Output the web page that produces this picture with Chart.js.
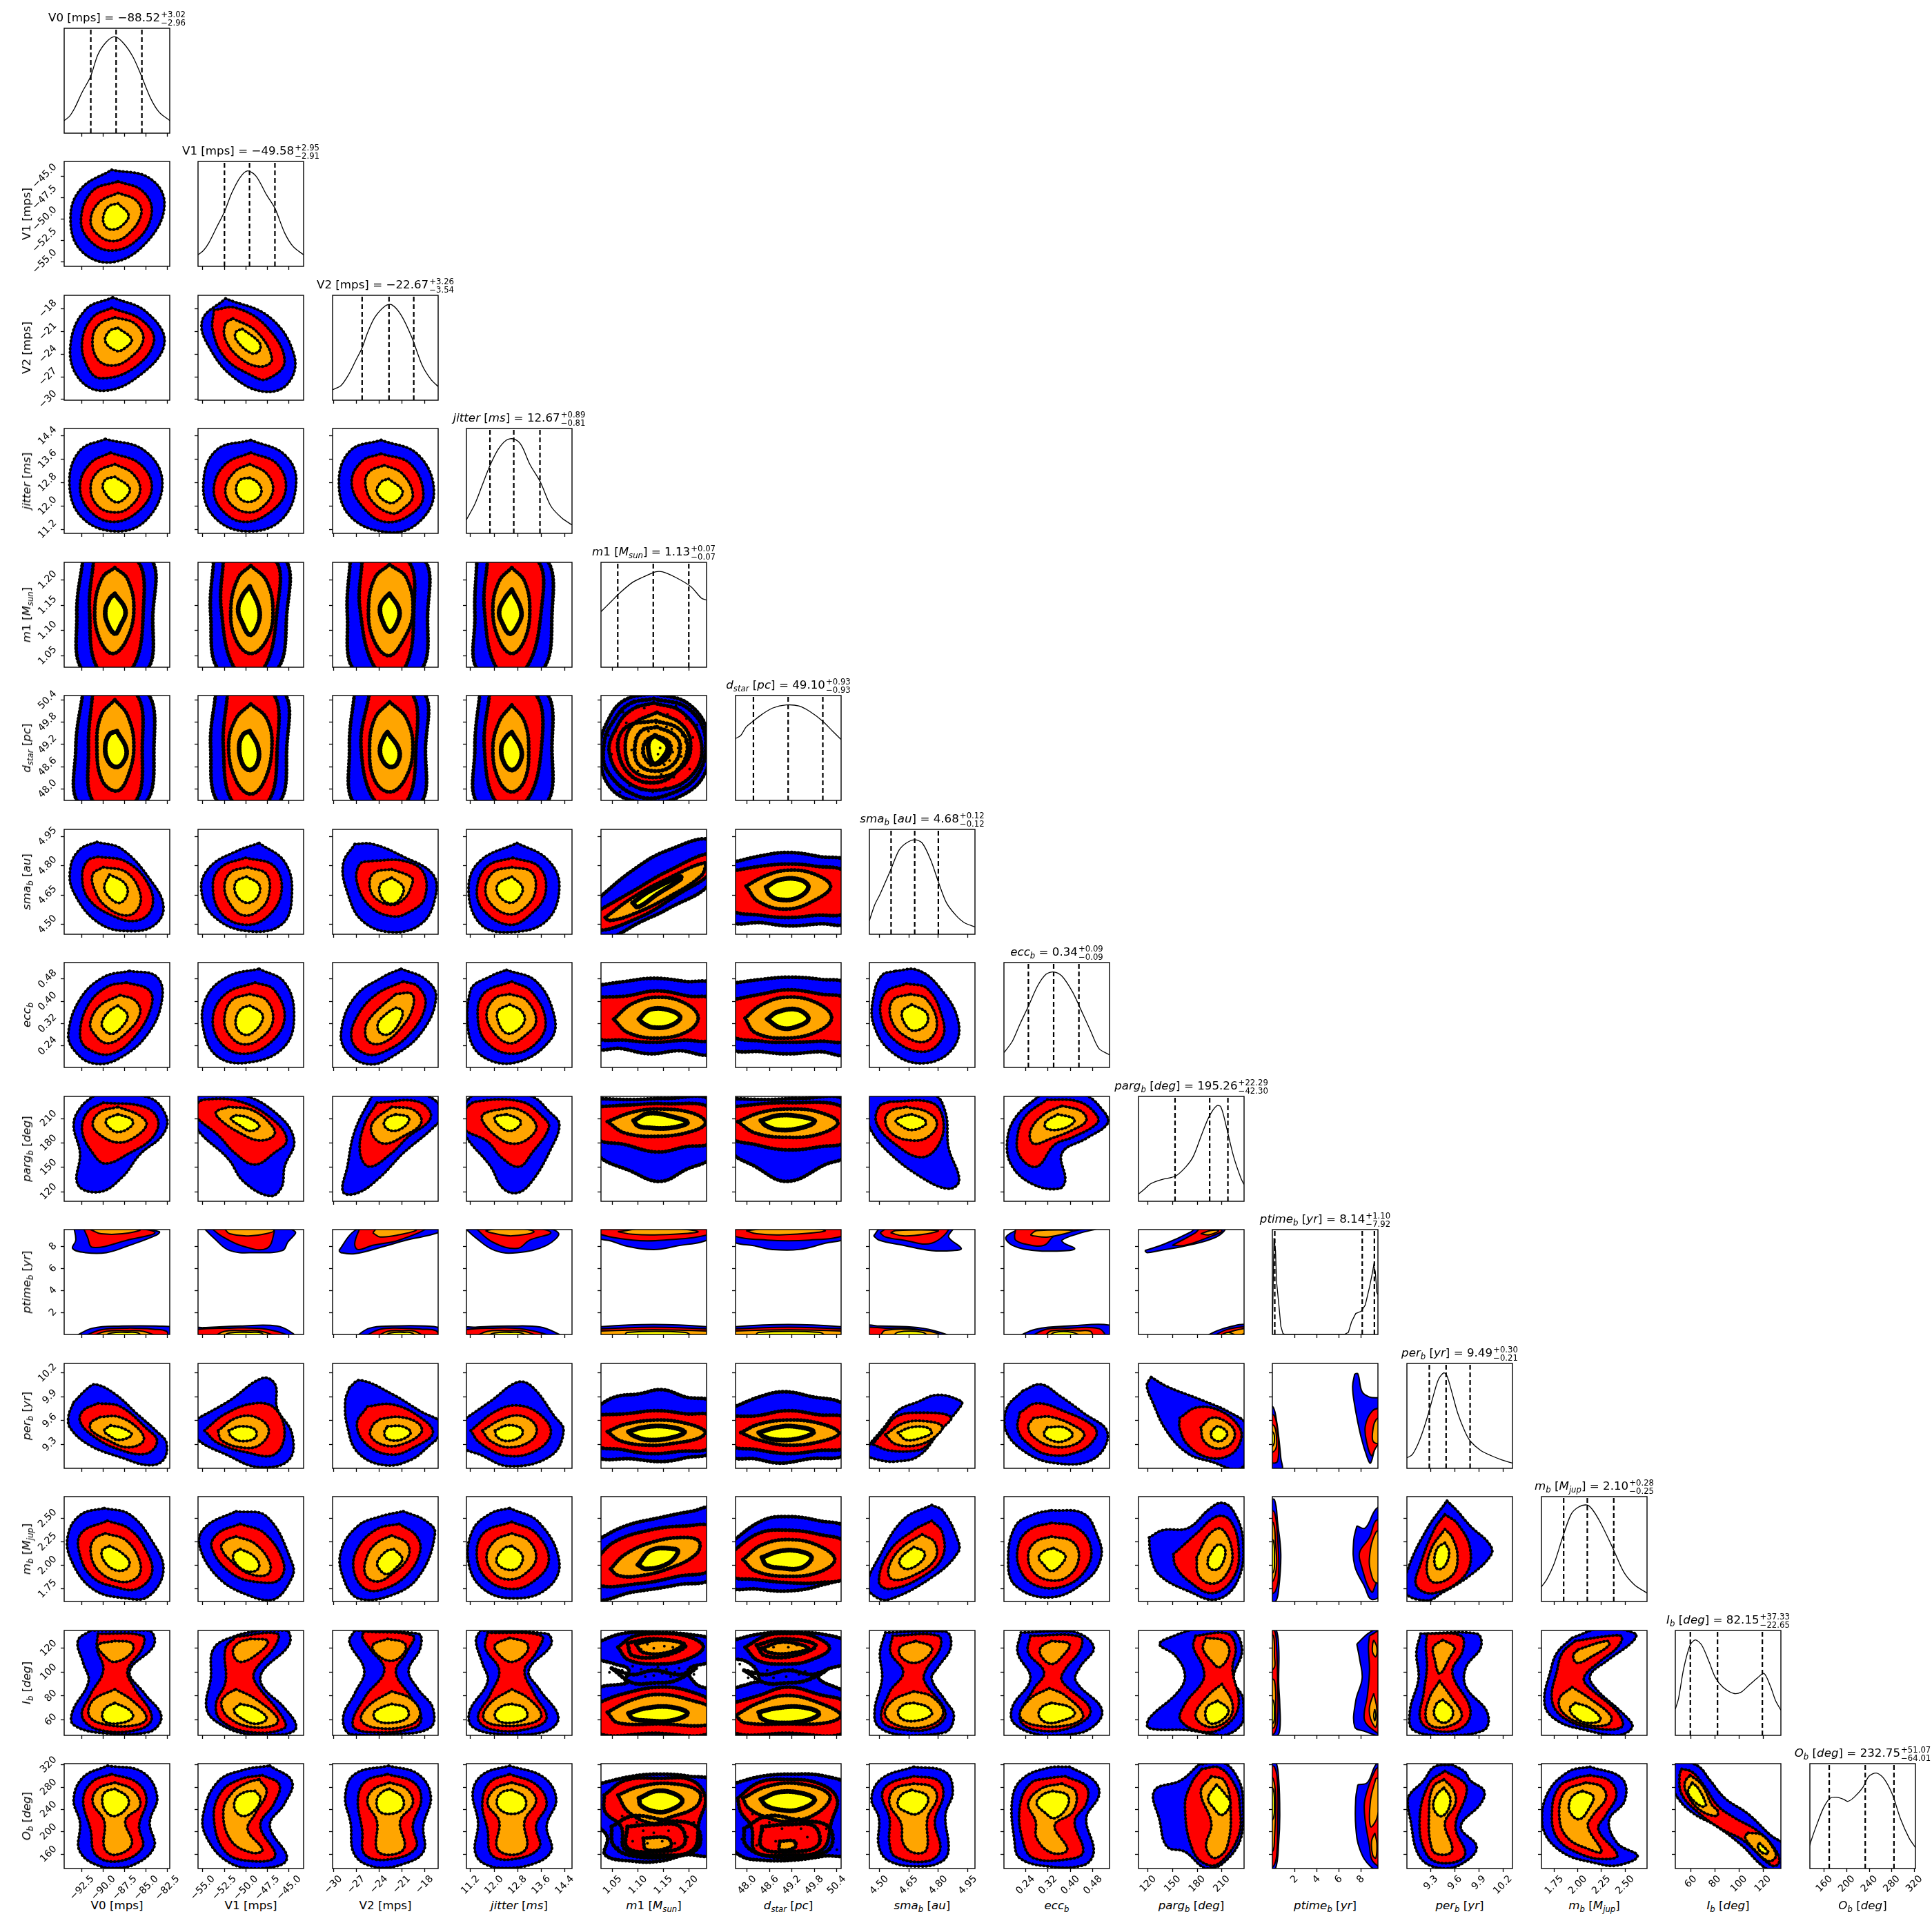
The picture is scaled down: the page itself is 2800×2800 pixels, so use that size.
<!DOCTYPE html>
<html>
<head>
<meta charset="utf-8">
<title>corner plot</title>
<script src="https://cdn.jsdelivr.net/npm/chart.js@4"></script>
<style>
  body { margin: 0; background: #fff; width: 2800px; height: 2800px; position: relative; overflow: hidden;
         font-family: "DejaVu Sans", sans-serif; color: #000; }
  canvas { position: absolute; }
  .txt { position: absolute; white-space: nowrap; font-size: 16.7px; line-height: 24px; }
  .txt sub { font-size: 70%; line-height: 0; }
  .stack { display: inline-block; vertical-align: middle; font-size: 11.7px; line-height: 11.5px; text-align: left; margin-left: 1px; position: relative; top: 1px; }
  .stack span { display: block; }
</style>
</head>
<body>
<script>
// parameter names (html because of the italics and subscripts)
const names = ['V0 [mps]', 'V1 [mps]', 'V2 [mps]', '<i>jitter</i> [<i>ms</i>]', '<i>m</i>1 [<i>M<sub>sun</sub></i>]',
  '<i>d<sub>star</sub></i> [<i>pc</i>]', '<i>sma<sub>b</sub></i> [<i>au</i>]', '<i>ecc<sub>b</sub></i>', '<i>parg<sub>b</sub></i> [<i>deg</i>]',
  '<i>ptime<sub>b</sub></i> [<i>yr</i>]', '<i>per<sub>b</sub></i> [<i>yr</i>]', '<i>m<sub>b</sub></i> [<i>M<sub>jup</sub></i>]',
  '<i>I<sub>b</sub></i> [<i>deg</i>]', '<i>O<sub>b</sub></i> [<i>deg</i>]'];
const medians = ['−88.52', '−49.58', '−22.67', '12.67', '1.13', '49.10', '4.68', '0.34', '195.26', '8.14', '9.49', '2.10', '82.15', '232.75'];
const plusErr = ['3.02', '2.95', '3.26', '0.89', '0.07', '0.93', '0.12', '0.09', '22.29', '1.10', '0.30', '0.28', '37.33', '51.07'];
const minusErr = ['2.96', '2.91', '3.54', '0.81', '0.07', '0.93', '0.12', '0.09', '42.30', '7.92', '0.21', '0.25', '22.65', '64.01'];
// axis limits
const lo = [-94.6, -55.56, -30.1, 11.06, 1.027, 47.69, 4.45, 0.163, 108.3, 0, 9.0, 1.615, 47, 134.3];
const hi = [-82.24, -43.3, -16.2, 14.65, 1.235, 50.52, 4.986, 0.539, 237.3, 9.56, 10.32, 2.732, 134.9, 322];
const tickLabels = [
  ['−92.5', '−90.0', '−87.5', '−85.0', '−82.5'], ['−55.0', '−52.5', '−50.0', '−47.5', '−45.0'], ['−30', '−27', '−24', '−21', '−18'],
  ['11.2', '12.0', '12.8', '13.6', '14.4'], ['1.05', '1.10', '1.15', '1.20'], ['48.0', '48.6', '49.2', '49.8', '50.4'],
  ['4.50', '4.65', '4.80', '4.95'], ['0.24', '0.32', '0.40', '0.48'], ['120', '150', '180', '210'], ['2', '4', '6', '8'],
  ['9.3', '9.6', '9.9', '10.2'], ['1.75', '2.00', '2.25', '2.50'], ['60', '80', '100', '120'], ['160', '200', '240', '280', '320']];

// 1d histograms: pairs of (percent across the panel, percent of panel height)
const histograms = [
  [0,12,5,16,10,24,17,39,25,54,32,75,40,87,48,92,56,86,65,73,73,55,82,33,90,20,100,12],
  [0,11,5,15,10,22,18,38,25,52,32,70,40,85,47,91,55,86,65,68,73,55,82,32,90,19,100,11],
  [0,10,8,14,15,24,22,38,28,50,33,64,40,79,50,90,56,91,65,81,75,60,85,33,93,20,100,13],
  [0,13,8,28,15,46,22,64,30,80,38,89,45,90,52,84,60,66,70,49,80,26,90,15,100,8],
  [0,53,10,63,18,71,30,81,40,86,52,91,58,91,70,86,85,77,95,66,100,64],
  [0,59,5,62,10,70,16,75,25,82,35,88,48,91,60,90,70,85,82,76,92,66,100,58],
  [0,13,5,28,10,38,20,61,28,80,35,87,43,90,50,87,58,71,66,48,73,30,82,18,90,11,100,7],
  [0,14,8,25,15,41,23,58,32,78,40,89,47,91,55,87,65,72,72,57,82,35,90,18,100,12],
  [0,7,5,11,12,17,23,21,35,24,45,33,52,43,60,64,67,81,74,91,78,90,83,72,90,43,97,22,100,16],
  [0,0,0.5,0,1.5,92,3,80,4,50,6,30,8,8,10,1,12,0,50,0,68,0,72,2,75,12,79,20,84,22,88,28,92,45,95,60,96,66,97.5,60,99,40,100,38],
  [0,10,5,13,10,22,15,35,20,51,25,69,30,85,35,91,38,88,43,71,48,53,55,35,60,26,70,17,80,12,90,8,100,5],
  [0,14,5,21,12,36,20,61,28,83,35,90,43,92,48,88,56,75,68,50,78,28,88,16,100,8],
  [0,25,3,35,8,64,14,86,19,91,25,86,32,70,38,55,45,46,55,40,62,41,70,48,78,55,84,59,90,47,95,33,100,24],
  [0,22,1,26,7,43,13,58,19,67,25,68,32,66,36,64,42,68,50,77,56,88,63,91,70,86,78,71,86,47,94,29,100,20]];

// 2d contour outlines: [row, col, level, [u,v, u,v, ...]], u and v are percent of the panel's axis range
// level k is a band of black samples with no fill of its own
const outlines = [
[1,0,'b',[45,92,81,84,95,59,79,24,46,4,16,15,6,46,16,74]],
[1,0,'r',[51,81,74,72,83,52,70,26,44,15,23,26,16,46,27,72]],
[1,0,'o',[51,70,68,63,73,50,61,31,46,24,31,31,25,44,33,61]],
[1,0,'y',[51,60,61,49,55,39,46,35,39,38,37,47,42,57]],
[2,0,'b',[46,98,78,84,95,55,72,24,37,9,13,22,6,53,20,86]],
[2,0,'r',[45,88,74,76,85,56,65,30,34,21,22,32,17,56,27,79]],
[2,0,'o',[48,79,67,73,75,58,62,40,45,33,31,40,27,60,34,73]],
[2,0,'y',[51,69,64,58,58,50,50,47,39,56,43,66]],
[2,1,'b',[26,97,68,79,91,43,86,17,65,8,36,20,12,48,4,76]],
[2,1,'r',[15,86,36,88,65,70,82,37,65,20,50,24,26,40,14,66]],
[2,1,'o',[33,78,56,65,70,39,59,32,40,40,26,58,26,73]],
[2,1,'y',[42,68,58,55,58,47,50,45,36,58,36,65]],
[3,0,'b',[39,90,76,79,93,49,78,13,48,2,16,16,5,49,15,79]],
[3,0,'r',[44,77,72,66,83,43,69,20,45,11,23,23,15,46,25,67]],
[3,0,'o',[48,66,65,57,72,41,62,25,48,20,32,26,25,43,32,59]],
[3,0,'y',[48,54,62,43,57,33,48,30,37,42,39,51]],
[3,1,'b',[50,89,82,75,93,49,79,13,45,2,15,16,5,46,17,79]],
[3,1,'r',[50,77,75,66,83,41,68,20,43,11,22,23,15,44,26,66]],
[3,1,'o',[49,66,65,57,71,41,61,25,47,20,31,28,26,43,35,59]],
[3,1,'y',[49,53,56,49,60,42,58,35,49,30,40,33,36,42,40,51]],
[3,2,'b',[46,89,81,75,96,39,81,10,53,1,17,16,6,49,17,79]],
[3,2,'r',[46,76,74,66,86,36,74,18,49,11,28,26,18,49,28,69]],
[3,2,'o',[49,65,66,57,76,36,66,23,56,19,38,30,31,48,35,59]],
[3,2,'y',[53,52,66,41,63,33,54,29,42,39,46,49]],
[4,0,'b',[18,105,80,105,84,50,76,-5,20,-5,12,50]],
[4,0,'r',[28,103,68,103,75,55,63,-3,33,-3,24,55]],
[4,0,'o',[48,95,60,84,66,55,59,26,46,13,34,26,29,55,36,85]],
[4,0,'y',[48,70,58,54,53,39,48,32,41,42,39,54,43,65]],
[4,1,'b',[15,105,80,105,84,50,72,-5,22,-5,12,50]],
[4,1,'r',[24,103,72,103,75,55,61,-3,36,-3,22,55]],
[4,1,'o',[50,97,65,82,71,52,65,26,50,13,36,26,31,55,38,85]],
[4,1,'y',[49,77,58,55,56,39,49,31,42,42,38,55,42,68]],
[4,2,'b',[17,105,84,105,90,50,81,-5,23,-5,14,50]],
[4,2,'r',[28,103,70,103,77,55,67,-3,42,-3,26,55]],
[4,2,'o',[54,98,70,85,76,52,67,26,53,11,39,26,34,55,40,85]],
[4,2,'y',[54,70,63,55,61,42,54,34,47,45,45,57,49,65]],
[4,3,'b',[10,105,73,105,81,50,69,-5,13,-5,8,50]],
[4,3,'r',[20,103,66,103,71,55,55,-3,30,-3,17,55]],
[4,3,'o',[43,95,55,82,60,55,55,26,43,13,31,26,25,55,31,82]],
[4,3,'y',[43,74,52,53,48,39,41,32,34,42,31,53,36,65]],
[5,0,'b',[18,105,76,105,85,50,74,-5,16,-5,11,50]],
[5,0,'r',[27,103,67,103,74,50,66,-3,29,-3,23,50]],
[5,0,'o',[48,96,60,81,66,52,60,22,50,9,36,19,31,52,35,81]],
[5,0,'y',[50,66,59,48,55,35,48,32,41,39,39,52,43,63]],
[5,1,'b',[17,105,79,105,84,50,74,-5,22,-5,12,50]],
[5,1,'r',[28,103,70,103,75,50,65,-3,34,-3,24,50]],
[5,1,'o',[50,92,65,78,70,52,63,19,50,6,36,19,29,52,36,78]],
[5,1,'y',[49,66,57,50,56,35,49,29,42,35,39,52,43,63]],
[5,2,'b',[21,105,84,105,88,50,81,-5,23,-5,16,50]],
[5,2,'r',[35,103,74,103,79,50,69,-3,42,-3,27,50]],
[5,2,'o',[54,94,70,78,76,48,68,19,54,8,40,19,35,48,40,78]],
[5,2,'y',[52,65,63,48,61,35,54,32,47,39,45,50,49,61]],
[5,3,'b',[13,105,73,105,81,50,73,-5,13,-5,8,50]],
[5,3,'r',[22,103,64,103,71,50,55,-3,29,-3,17,50]],
[5,3,'o',[43,91,55,75,59,48,55,19,43,8,31,19,25,48,31,75]],
[5,3,'y',[43,65,52,48,50,35,43,29,36,35,33,50,38,61]],
[5,4,'b',[50,102,83,92,102,62,98,25,73,3,40,-2,9,12,-1,49,8,79,23,96]],
[5,4,'r',[50,93,77,84,95,55,87,25,57,10,26,17,8,45,16,72,30,87]],
[5,4,'o',[53,84,77,72,85,52,77,32,53,22,30,29,23,52,30,72]],
[5,4,'y',[51,62,63,52,58,40,50,35,45,48,46,57]],
[5,4,'k',[50,97,82,88,99,60,92,25,65,6,35,4,6,28,3,55,12,76,27,92]],
[5,4,'k',[52,76,74,68,82,50,72,28,52,17,28,24,16,50,24,70]],
[5,4,'k',[53,70,70,62,75,50,68,34,52,28,36,34,32,50,38,66]],
[5,4,'k',[52,62,64,56,66,48,60,38,50,34,42,40,40,50,44,58]],
[6,0,'b',[31,88,55,81,83,50,94,27,87,10,66,3,34,10,9,40,6,64,15,81]],
[6,0,'r',[32,74,59,69,80,47,83,25,69,13,45,18,23,34,17,55,22,70]],
[6,0,'o',[37,64,59,59,72,39,69,23,57,18,39,27,29,42,27,57]],
[6,0,'y',[43,57,57,49,60,39,53,30,43,35,38,45]],
[6,1,'b',[58,87,82,69,89,40,80,10,47,3,15,17,3,44,12,65,36,79]],
[6,1,'r',[45,73,72,65,79,40,66,17,45,9,22,20,14,47,22,64]],
[6,1,'o',[47,64,65,57,67,37,58,23,43,18,31,28,25,45,31,59]],
[6,1,'y',[46,55,58,47,56,35,46,30,36,38,36,50]],
[6,2,'b',[21,86,38,86,67,74,95,57,97,34,84,10,56,2,28,13,14,40,10,67]],
[6,2,'r',[38,70,67,70,86,59,87,34,74,22,57,17,35,27,23,50,26,67]],
[6,2,'o',[56,62,75,54,75,47,68,34,56,28,40,35,35,49,40,59]],
[6,2,'y',[56,54,67,45,64,34,56,29,47,34,45,47]],
[6,3,'b',[48,87,76,72,88,47,76,13,41,2,13,10,2,44,13,70]],
[6,3,'r',[44,73,69,64,75,40,62,20,41,9,16,23,10,44,20,65]],
[6,3,'o',[43,64,62,59,65,40,55,25,41,19,25,27,18,42,25,59]],
[6,3,'y',[43,55,53,45,50,35,41,30,30,38,30,48]],
[6,4,'b',[-5,32,30,61,63,80,105,89,105,51,63,24,36,11,10,-3,-5,-6]],
[6,4,'r',[-5,21,30,41,63,60,105,77,105,60,73,38,36,16,-5,4]],
[6,4,'o',[4,16,30,35,63,53,99,68,95,56,63,35,30,19,8,13]],
[6,4,'y',[30,30,46,41,75,55,76,53,53,38,35,26]],
[6,5,'b',[-5,68,25,75,50,78,80,74,105,68,105,12,80,10,50,8,25,11,-5,14]],
[6,5,'r',[-5,60,25,65,50,67,75,65,105,58,105,22,75,18,50,16,25,18,-5,25]],
[6,5,'o',[10,46,29,56,49,61,73,58,90,46,76,33,49,24,22,31]],
[6,5,'y',[29,45,42,52,61,52,69,45,59,35,42,33,32,38]],
[7,0,'b',[62,92,87,87,93,67,80,33,51,8,27,4,9,17,4,33,15,65,37,86]],
[7,0,'r',[59,81,80,74,83,60,69,32,45,13,22,18,15,32,23,60,41,77]],
[7,0,'o',[53,69,67,64,72,52,60,34,41,23,27,34,25,44,34,59]],
[7,0,'y',[51,59,60,50,55,39,45,32,37,37,36,44,43,54]],
[7,1,'b',[58,94,82,81,91,50,82,20,50,5,19,10,5,37,8,67,29,87]],
[7,1,'r',[54,81,72,74,82,47,68,23,43,13,22,23,14,47,26,70]],
[7,1,'o',[49,70,65,64,71,45,61,29,43,22,29,32,25,47,32,64]],
[7,1,'y',[49,59,60,52,61,45,54,35,45,31,37,37,36,47,41,56]],
[7,2,'b',[65,94,88,84,98,67,84,33,56,10,35,3,15,13,8,33,21,67,49,87]],
[7,2,'r',[67,82,81,77,88,60,74,33,49,15,31,13,18,27,24,50,42,70]],
[7,2,'o',[60,70,75,70,76,57,66,39,49,24,35,24,31,37,38,50]],
[7,2,'y',[60,57,66,54,64,44,54,32,45,33,43,42,52,52]],
[7,3,'b',[38,93,66,82,83,50,80,27,48,5,16,10,2,33,4,74,23,87]],
[7,3,'r',[43,82,62,72,75,44,66,23,43,13,20,23,11,44,16,70]],
[7,3,'o',[41,70,57,64,66,44,55,30,41,23,27,32,19,50,27,66]],
[7,3,'y',[41,60,52,54,55,44,46,34,37,33,30,44,30,54]],
[7,4,'b',[-5,78,23,82,50,85,80,82,105,78,105,15,73,16,46,13,19,18,-5,20]],
[7,4,'r',[-5,67,23,68,53,73,83,68,105,64,105,28,77,26,50,24,23,26,-5,30]],
[7,4,'o',[12,46,30,61,55,67,80,61,92,48,83,35,56,28,26,33]],
[7,4,'y',[36,46,46,55,63,55,75,48,66,40,50,38,40,42]],
[7,5,'b',[-5,80,25,84,50,86,80,84,105,78,105,14,80,15,50,13,25,15,-5,20]],
[7,5,'r',[-5,64,25,70,50,74,80,70,105,64,105,27,80,25,50,24,25,25,-5,32]],
[7,5,'o',[9,47,25,60,49,67,76,62,91,48,79,35,49,28,19,33]],
[7,5,'y',[30,46,40,53,59,55,69,46,55,38,42,38]],
[7,6,'b',[25,92,45,93,65,78,84,45,79,18,52,4,22,14,4,41,4,68,12,88]],
[7,6,'r',[35,80,55,75,69,48,69,28,52,15,25,25,11,48,15,71]],
[7,6,'o',[39,70,54,65,64,41,54,25,35,29,21,45,22,64]],
[7,6,'y',[40,60,54,52,54,41,42,35,34,41,31,53]],
[8,0,'b',[30,102,80,99,97,80,93,63,72,45,55,23,34,9,13,16,15,46,9,73,16,90]],
[8,0,'r',[37,94,76,90,89,77,83,60,62,46,39,36,27,46,17,67,22,85]],
[8,0,'o',[51,90,71,82,78,73,65,60,51,56,36,62,27,73,34,85]],
[8,0,'y',[51,83,64,78,64,72,51,66,41,72,40,78]],
[8,1,'b',[-3,103,40,102,75,83,91,58,82,33,79,13,68,5,43,19,29,40,-3,73]],
[8,1,'r',[-3,92,6,97,40,95,72,77,84,58,72,46,54,35,36,45,19,63,-3,82]],
[8,1,'o',[29,90,51,87,70,72,72,63,58,58,40,65,22,77,17,85]],
[8,1,'y',[36,82,47,80,58,72,50,67,40,72,31,79]],
[8,2,'b',[38,102,88,101,105,84,95,70,67,46,45,23,24,8,10,9,14,33,21,67]],
[8,2,'r',[42,94,81,95,93,80,70,60,56,46,35,33,26,46,30,73]],
[8,2,'o',[56,90,77,87,84,75,67,62,49,55,38,63,38,75]],
[8,2,'y',[60,83,72,80,70,73,58,67,49,72,51,79]],
[8,3,'b',[-3,92,9,102,59,101,80,84,88,73,80,50,62,19,48,8,34,13,23,33,-3,67]],
[8,3,'r',[-3,87,9,95,52,95,73,80,78,70,62,46,50,33,34,41,20,57,-3,70]],
[8,3,'o',[27,87,48,88,66,73,59,60,43,55,27,63,15,77,16,83]],
[8,3,'y',[38,83,50,78,51,73,41,67,30,73,27,80]],
[8,4,'b',[-5,98,30,97,60,98,105,95,105,44,80,30,56,19,30,28,-5,48]],
[8,4,'r',[-5,90,30,92,60,93,105,88,105,57,80,52,53,47,23,54,-5,61]],
[8,4,'o',[6,76,30,85,56,88,87,84,99,75,87,67,56,62,23,65]],
[8,4,'y',[31,77,46,84,70,80,82,75,66,70,46,70,35,72]],
[8,5,'b',[-5,98,30,97,60,98,105,95,105,45,85,35,49,19,19,33,-5,50]],
[8,5,'r',[-5,90,50,94,105,88,105,58,80,52,49,49,19,54,-5,62]],
[8,5,'o',[2,76,25,85,52,88,79,85,97,75,79,64,49,61,19,65]],
[8,5,'y',[24,77,42,82,66,80,75,76,62,70,42,68,29,72]],
[8,6,'b',[-3,103,60,102,72,85,75,51,85,20,75,12,49,23,19,46,2,67,-3,85]],
[8,6,'r',[19,95,59,94,70,77,65,53,49,42,25,54,7,74,9,90]],
[8,6,'o',[35,90,55,85,64,74,55,61,40,58,22,64,15,77,20,86]],
[8,6,'y',[40,83,52,78,53,73,40,68,30,72,25,77,32,81]],
[8,7,'b',[35,102,75,102,95,85,98,74,78,60,55,46,58,20,52,12,28,16,8,33,3,56,11,80]],
[8,7,'r',[41,97,71,95,88,82,88,74,65,61,48,54,31,33,15,43,13,64,21,82]],
[8,7,'o',[55,91,73,86,78,77,65,68,45,60,28,55,25,67,38,83]],
[8,7,'y',[51,83,66,79,66,75,55,69,41,69,39,75]],
[9,0,'b',[9,103,60,103,90,98,88,95,62,85,40,78,20,78,8,82,11,90]],
[9,0,'r',[18,102,60,102,86,97,60,90,27,83,22,93]],
[9,0,'o',[25,100,45,103,72,100,55,96,35,96,27,99]],
[9,0,'b',[10,-2,27,6,55,8,87,8,105,6,105,-2]],
[9,0,'r',[18,-2,35,4.5,60,6,85,5,97,3,97,-2]],
[9,0,'o',[25,-2,40,3,60,3.5,75,3,86,-2]],
[9,0,'y',[36,-2,45,1.5,60,2,70,1.5,73,-2]],
[9,1,'b',[4,103,70,103,92,98,85,88,80,80,55,78,30,80,15,92]],
[9,1,'r',[12,102,70,102,72,97,65,82,43,84,22,94]],
[9,1,'o',[25,101,50,103,72,99,50,94,30,96]],
[9,1,'b',[-5,-2,-5,6,5,6.5,40,8,75,8,90,1,91,-2]],
[9,1,'r',[-5,-2,-5,4,30,6,65,5,85,-2]],
[9,1,'o',[15,-2,25,3,45,3.5,60,3,72,-2]],
[9,1,'y',[22,-2,30,1.5,50,2,60,1.5,62,-2]],
[9,2,'b',[6,80,21,99,40,103,105,102,100,97,70,90,49,84,21,77,8,78]],
[9,2,'r',[26,102,88,102,63,90,38,85,24,81,21,87]],
[9,2,'o',[38,97,45,103,79,100,63,95,45,93]],
[9,2,'b',[22,-2,35,6,56,8,88,8,105,5,105,-2]],
[9,2,'r',[30,-2,45,5,65,6,85,5,98,3.5,100,-2]],
[9,2,'o',[42,-2,52,3,65,3.5,78,3,85,-2]],
[9,2,'y',[48,-2,55,1.5,68,2,75,1.5,78,-2]],
[9,3,'b',[-3,103,60,103,87,97,76,85,48,78,27,80,9,92]],
[9,3,'r',[8,102,60,102,80,97,60,90,48,82,25,88]],
[9,3,'o',[18,99,40,102,64,98,43,94,23,97]],
[9,3,'b',[-5,-2,-5,6,10,7,40,8,70,7,88,0,89,-2]],
[9,3,'r',[-5,-2,-5,3.5,25,6,55,5,78,-2]],
[9,3,'o',[8,-2,20,3,40,3.5,55,3,66,-2]],
[9,3,'y',[18,-2,27,1.5,42,2,52,1.5,56,-2]],
[9,4,'b',[-5,103,105,103,105,92,70,84,50,81,25,84,10,89,-5,93]],
[9,4,'r',[-5,103,105,103,105,96,60,90,30,90,-5,97]],
[9,4,'o',[16,98,50,102,92,98,55,95,30,95.5]],
[9,4,'b',[-5,-2,-5,7,105,7,105,-2]],
[9,4,'r',[-5,-2,-5,5,105,5,105,-2]],
[9,4,'o',[-5,-2,-5,3,105,3,105,-2]],
[9,4,'y',[22,-2,25,2,80,2,85,-2]],
[9,5,'b',[-5,103,105,103,105,92,85,87,60,81,35,81,20,84,-5,90]],
[9,5,'r',[-5,103,105,103,105,95,70,90,30,90,-5,95]],
[9,5,'o',[10,99,40,102,85,99,45,95,20,96]],
[9,5,'b',[-5,-2,-5,7,105,7,105,-2]],
[9,5,'r',[-5,-2,-5,5,105,5,105,-2]],
[9,5,'o',[-5,-2,-5,3,105,3,105,-2]],
[9,5,'y',[18,-2,22,2,80,2,84,-2]],
[9,6,'b',[4,94,12,102,79,102,75,93,87,82,79,80,59,80,32,85,9,90]],
[9,6,'r',[10,97,19,102,74,102,59,87,32,90,15,93]],
[9,6,'o',[20,97,25,99,65,99,55,96,32,94]],
[9,6,'b',[-5,-2,-5,8,10,8,40,7,60,4,75,-2]],
[9,6,'r',[-5,-2,-5,6,15,6,45,5,65,-2]],
[9,6,'o',[10,-2,15,4,50,4,65,1,68,-2]],
[9,6,'y',[22,-2,27,2.2,50,2.2,55,-2]],
[9,7,'b',[18,102,90,102,70,96,55,90,57,87,67,82,60,80,30,80,8,85,2,93]],
[9,7,'r',[10,95,13,102,80,102,48,94,38,85,21,86,11,90]],
[9,7,'o',[25,95,31,99,65,99,42,93,28,94]],
[9,7,'b',[13,-2,30,5,60,8,105,8,105,-2]],
[9,7,'r',[25,-2,40,5,60,6,90,5.5,95,-2]],
[9,7,'o',[38,-2,45,3.5,70,3.5,82,3,83,-2]],
[9,7,'y',[42,-2,48,2,65,2,72,-2]],
[9,8,'b',[6,80,24,86,50,98,55,102,82,102,74,93,47,85,20,80,8,78]],
[9,8,'r',[32,85,54,97,60,102,79,99,67,93,44,85]],
[9,8,'o',[59,96,68,99,76,99,67,95]],
[9,8,'b',[63,-2,80,5.5,105,9,105,-2]],
[9,8,'r',[70,-2,85,5,105,7,105,2,90,-2]],
[9,8,'o',[74,-2,90,3.5,105,6,105,3,90,-2]],
[9,8,'y',[76,-2,85,2,92,-2]],
[10,0,'b',[9,63,23,77,30,80,48,71,69,52,90,33,97,24,94,8,80,3,55,10,24,22,6,38,4,49]],
[10,0,'r',[32,62,53,59,78,38,88,26,78,14,52,18,27,31,15,45,18,55]],
[10,0,'o',[34,49,52,49,71,37,75,26,60,20,41,27,26,36,25,43]],
[10,0,'y',[44,41,56,38,64,32,52,27,43,31,38,36]],
[10,1,'b',[-3,46,29,64,61,86,73,80,75,57,89,33,86,8,58,1,29,12,-3,30]],
[10,1,'r',[6,36,26,52,54,62,73,57,82,33,72,13,47,15,19,24]],
[10,1,'o',[19,36,36,48,54,49,67,37,58,22,40,20,22,27]],
[10,1,'y',[29,36,40,40,54,37,54,29,40,26,31,31]],
[10,2,'b',[16,77,26,84,56,71,84,54,103,43,100,30,92,22,74,8,49,3,24,15,14,40,12,64]],
[10,2,'r',[33,59,56,61,81,50,95,34,77,20,56,13,33,22,23,42]],
[10,2,'o',[45,47,63,49,81,43,84,34,66,23,49,22,36,31,38,41]],
[10,2,'y',[52,40,66,40,74,34,64,27,52,28,49,34]],
[10,3,'b',[-3,46,23,64,48,82,62,78,83,50,92,36,80,12,41,2,13,13,-3,21]],
[10,3,'r',[4,36,27,54,48,60,69,52,80,34,66,17,38,12,13,24]],
[10,3,'o',[15,36,34,47,52,50,66,40,62,27,41,20,23,26]],
[10,3,'y',[27,36,39,41,52,38,52,31,39,26,29,30]],
[10,4,'b',[-5,58,13,68,36,71,58,75,80,68,105,62,105,17,80,10,58,6.5,30,9,-5,13]],
[10,4,'r',[-5,51,23,52,53,55,80,52,105,49,105,21,73,16,46,14,19,18,-5,23]],
[10,4,'o',[6,35,23,42,53,46,80,43,99,35,93,29,70,24,46,22,19,26]],
[10,4,'y',[26,35,40,39,60,40,79,35,70,30,46,27,31,31]],
[10,5,'b',[-5,57,25,69,46,73,69,69,105,58,105,15,69,9,42,5,19,9,-5,13]],
[10,5,'r',[-5,50,19,50,49,55,79,51,105,47,105,21,79,17,49,14,19,18,-5,23]],
[10,5,'o',[5,34,22,42,49,46,79,43,98,34,86,27,52,22,22,27]],
[10,5,'y',[22,34,39,39,55,40,74,35,62,29,42,27,27,30]],
[10,6,'b',[0,23,13,38,27,55,45,63,65,70,87,64,87,60,67,36,47,12,25,6.5,9,8,-2,13]],
[10,6,'r',[3,23,14,36,25,49,45,53,77,49,66,35,55,22,45,17,19,17]],
[10,6,'o',[15,32,32,43,52,45,69,40,62,30,45,22,25,23]],
[10,6,'y',[27,34,39,39,54,39,59,34,49,29,35,27]],
[10,7,'b',[18,74,35,80,53,69,75,53,98,34,85,9,48,5,18,17,1,38,3,58]],
[10,7,'r',[15,53,31,62,58,54,85,40,87,30,71,16,42,13,21,25,13,38]],
[10,7,'o',[28,48,45,49,71,38,76,31,65,22,45,21,28,30,23,40]],
[10,7,'y',[41,39,57,39,65,32,57,26,47,26,38,32]],
[10,8,'b',[12,87,27,78,60,65,87,53,103,40,103,9,94,-1,70,6,47,14,27,35,13,64,8,79]],
[10,8,'r',[39,48,55,58,77,55,95,40,97,27,87,13,67,10,47,22,39,38]],
[10,8,'o',[59,39,69,48,82,45,91,35,87,23,74,19,62,26]],
[10,8,'y',[69,35,75,40,84,34,80,27,74,26,69,30]],
[10,9,'b',[-3,60,1,58,4,45,6,30,8,10,9,-3,-3,-3]],
[10,9,'r',[-3,52,2,50,5,35,6,20,5,7,2,5,-3,7]],
[10,9,'o',[-3,43,2,40,4,28,3,18,-3,15]],
[10,9,'y',[-3,36,1,34,2,28,1,22,-3,20]],
[10,9,'b',[78,90,81,90,85,73,92,68,105,65,105,35,97,18,93,5,90,10,84,30,78,60,76,78]],
[10,9,'r',[105,58,95,55,88,40,90,22,94,12,97,18,105,32]],
[10,9,'o',[105,50,98,46,95,35,96,25,105,25]],
[11,0,'b',[38,89,62,83,83,58,94,30,80,5,59,3,27,12,6,41,4,65,16,83]],
[11,0,'r',[41,77,62,69,78,48,83,27,69,12,48,14,27,23,15,44,16,65]],
[11,0,'o',[39,65,59,58,72,37,69,23,52,19,32,30,25,48,29,60]],
[11,0,'y',[43,53,55,46,62,37,57,30,46,31,37,40,36,49]],
[11,1,'b',[36,86,65,81,89,37,89,23,72,2,50,5,19,23,1,55,8,72]],
[11,1,'r',[40,74,63,65,81,37,77,21,61,18,33,26,13,51,19,65]],
[11,1,'o',[36,62,54,55,68,37,66,26,50,26,33,37,22,51,26,58]],
[11,1,'y',[40,50,52,44,58,35,54,29,43,30,34,39,34,46]],
[11,2,'b',[67,86,88,77,97,65,81,23,53,5,24,3,10,23,8,48,24,72,45,81]],
[11,2,'r',[63,74,79,63,83,48,71,26,49,12,31,12,20,30,24,51,42,69]],
[11,2,'o',[56,63,71,55,71,41,56,26,42,19,31,26,33,44,42,56]],
[11,2,'y',[58,50,66,41,61,33,51,26,43,33,43,39,51,48]],
[11,3,'b',[41,89,69,75,88,37,76,12,45,3,16,12,2,37,6,68,23,84]],
[11,3,'r',[43,76,66,65,78,39,62,18,41,12,20,21,10,41,16,65]],
[11,3,'o',[43,65,59,58,66,41,55,26,41,21,27,26,19,42,27,58]],
[11,3,'y',[43,53,53,44,50,33,41,30,30,35,29,42,36,51]],
[11,4,'b',[-5,58,23,72,56,80,86,86,105,88,105,24,73,16,30,9,-5,4]],
[11,4,'r',[-5,40,13,57,46,68,80,72,105,70,105,32,73,24,36,17,-5,17]],
[11,4,'o',[9,31,23,45,50,57,80,61,93,57,90,45,63,31,33,24,16,25]],
[11,4,'y',[35,35,48,49,70,50,73,47,63,36,43,31]],
[11,5,'b',[-5,56,25,77,49,81,79,77,105,69,105,27,79,15,49,10,19,12,-5,15]],
[11,5,'r',[-5,46,22,65,49,68,79,64,105,55,105,24,79,18,49,18,19,21,-5,25]],
[11,5,'o',[7,40,25,54,52,59,79,53,94,40,79,28,49,24,19,29]],
[11,5,'y',[25,42,42,48,60,48,72,42,62,32,42,32,29,35]],
[11,6,'b',[59,92,70,86,84,58,84,47,62,25,19,2,5,5,-2,16,9,42,32,78]],
[11,6,'r',[59,77,69,66,69,42,49,23,19,12,9,19,19,48,42,68]],
[11,6,'o',[50,64,62,56,62,40,42,25,22,21,18,31,29,50]],
[11,6,'y',[42,52,52,47,50,39,37,31,29,35,30,42]],
[11,7,'b',[45,87,75,84,88,64,92,42,78,20,45,4,11,15,4,40,11,72,28,83]],
[11,7,'r',[45,75,68,71,82,53,78,31,58,15,31,15,15,31,14,55,25,69]],
[11,7,'o',[45,62,65,57,71,42,62,25,45,20,28,28,23,45,30,57]],
[11,7,'y',[47,51,58,44,55,36,45,29,37,36,33,42,38,48]],
[11,8,'b',[10,61,23,68,47,70,67,88,79,94,90,86,99,58,94,20,74,2,47,10,20,25,12,42]],
[11,8,'r',[33,45,54,64,74,81,87,77,95,50,90,23,70,8,47,20,35,34]],
[11,8,'o',[55,42,67,64,79,69,89,45,82,24,69,17,57,25]],
[11,8,'y',[66,42,75,54,82,50,79,35,72,30,66,34]],
[11,9,'b',[-3,97,2,97,5,75,8,45,6,12,3,0,-3,0]],
[11,9,'r',[-3,88,2,85,5,60,6,30,3,10,-3,8]],
[11,9,'o',[-3,75,1,75,3,55,4,35,1,20,-3,20]],
[11,9,'y',[-3,60,1,58,2,40,1,28,-3,28]],
[11,9,'b',[80,72,88,70,98,88,105,90,105,10,94,2,87,15,78,34,77,58]],
[11,9,'r',[105,78,98,77,92,61,83,48,83,39,94,9,100,20,105,18]],
[11,9,'o',[105,68,98,66,92,42,94,25,98,18,105,20]],
[11,10,'b',[38,96,48,86,60,72,78,55,80,45,60,25,33,8,19,1,-2,9,1,31,19,69]],
[11,10,'r',[36,83,48,74,60,50,55,25,26,8,9,15,13,36,26,69]],
[11,10,'o',[36,69,43,61,48,42,43,25,26,18,19,28,23,50]],
[11,10,'y',[36,56,40,47,36,34,29,31,26,39,29,51]],
[12,0,'b',[25,100,80,100,85,86,62,61,76,40,92,18,80,3,38,2,9,10,8,23,23,51,18,69,13,90]],
[12,0,'r',[32,97,74,95,74,83,60,62,66,46,83,18,72,6,34,5,17,18,25,39,37,62,31,83]],
[12,0,'o',[48,90,64,88,64,79,48,70,38,76,32,86]],
[12,0,'o',[48,44,66,32,78,17,69,10,41,10,24,18,27,33]],
[12,0,'y',[48,31,62,24,65,17,55,12,41,12,36,18,39,26]],
[12,1,'b',[58,100,84,100,86,86,61,61,61,47,82,26,93,8,82,1,47,1,19,12,8,26,12,54,15,83,36,95]],
[12,1,'r',[36,94,75,97,73,85,54,62,54,51,79,19,82,7,50,3,22,14,17,30,26,51,26,83]],
[12,1,'o',[50,92,66,90,58,79,40,70,33,79,38,88]],
[12,1,'o',[36,44,54,35,75,17,73,10,50,8,29,17,22,30,26,38]],
[12,1,'y',[40,30,54,26,65,16,54,11,40,17,34,24]],
[12,2,'b',[21,100,81,97,83,83,72,62,81,44,95,26,92,7,53,1,17,1,10,17,21,40,30,62,16,89]],
[12,2,'r',[30,99,76,95,70,79,60,60,74,37,84,17,77,7,35,3,19,10,31,37,49,62,35,83,28,94]],
[12,2,'o',[52,92,68,88,68,79,56,71,42,77,38,86]],
[12,2,'o',[56,42,74,35,83,21,74,10,42,7,27,15,35,29]],
[12,2,'y',[56,30,70,26,71,17,56,12,42,14,39,21,45,26]],
[12,3,'b',[13,100,76,97,80,86,59,62,69,44,87,17,73,3,34,1,6,8,3,23,20,51,15,69,9,90]],
[12,3,'r',[20,98,71,95,66,79,55,62,64,40,76,17,62,7,27,5,11,16,23,40,31,62,18,83]],
[12,3,'o',[41,93,57,88,57,79,43,70,31,77,27,86]],
[12,3,'o',[43,44,59,35,71,19,59,11,27,10,16,17,23,31]],
[12,3,'y',[43,30,55,26,57,17,43,12,30,14,27,21,34,28]],
[12,4,'b',[-5,88,20,97,50,98,85,96,105,90,105,72,83,63,90,49,105,41,105,2,50,-2,-5,2,-5,42,25,50,23,52,26,63,13,68,-5,75]],
[12,4,'r',[16,84,30,94,56,97,83,94,97,84,80,72,53,68,26,72]],
[12,4,'r',[-5,30,19,39,56,46,87,41,105,30,105,3,50,2,-5,3]],
[12,4,'o',[33,87,56,91,77,87,63,79,40,79]],
[12,4,'o',[6,22,30,34,56,39,87,33,105,25,105,11,56,11,16,12]],
[12,4,'y',[26,21,43,26,66,27,82,21,66,14,43,14,30,16]],
[12,4,'k',[10,64,30,58,50,62,75,58,90,64,70,52,50,50,30,50]],
[12,4,'k',[25,88,50,92,80,86,60,76,30,76]],
[12,5,'b',[-5,90,25,97,55,98,85,96,105,88,105,70,85,62,79,54,105,38,105,2,50,-2,-5,2,-5,40,15,50,22,52,19,63,9,71,-5,75]],
[12,5,'r',[9,84,29,95,49,97,72,95,89,83,69,71,49,68,22,71]],
[12,5,'r',[-5,30,22,38,49,46,79,39,105,30,105,3,50,2,-5,4]],
[12,5,'o',[25,83,45,89,69,83,49,78,32,79]],
[12,5,'o',[0,19,22,31,49,38,79,31,100,19,86,12,49,11,9,12]],
[12,5,'y',[22,22,39,26,62,27,79,21,66,14,39,12,25,16]],
[12,5,'k',[8,62,28,58,50,62,72,58,86,62,66,52,48,50,28,50]],
[12,5,'k',[20,86,45,92,76,86,56,76,28,76]],
[12,6,'b',[15,98,72,99,77,84,65,65,59,54,72,33,80,19,72,3,35,0,9,8,5,24,12,54,10,79]],
[12,6,'r',[22,95,65,95,67,83,54,63,52,52,72,22,62,8,35,5,12,14,19,41,32,60,20,79]],
[12,6,'o',[44,90,59,84,55,75,42,69,30,75,29,84]],
[12,6,'o',[42,42,59,37,70,22,59,10,32,8,15,19,22,33]],
[12,6,'y',[42,31,55,27,59,20,45,14,32,15,27,22,32,29]],
[12,7,'b',[16,98,65,99,85,84,72,65,68,52,93,23,75,3,38,0,10,11,8,27,25,54,13,79]],
[12,7,'r',[25,95,72,94,72,81,58,63,55,52,82,24,65,8,31,5,15,16,28,44,38,60,23,79]],
[12,7,'o',[45,90,62,87,55,75,45,68,35,76,35,84]],
[12,7,'o',[43,45,58,38,75,19,62,10,28,10,15,19,25,35]],
[12,7,'y',[45,31,62,27,67,20,55,14,41,12,33,19,36,27]],
[12,8,'b',[54,102,87,102,98,82,90,54,99,35,99,13,80,0,47,5,10,7,10,16,37,41,44,57,35,76,20,87,34,95]],
[12,8,'r',[54,95,84,97,92,84,89,63,95,30,85,11,64,3,40,14,44,30,61,52,61,65,52,84]],
[12,8,'o',[64,93,81,90,86,79,77,65,69,71,61,83]],
[12,8,'o',[79,49,89,30,85,15,67,8,54,19,66,38]],
[12,8,'y',[75,33,85,25,82,17,70,11,64,16,65,27]],
[12,9,'b',[-3,102,3,102,6,85,6,50,7,30,7,5,3,-2,-3,-2]],
[12,9,'r',[-3,100,2,100,4,85,5,50,5,15,2,2,-3,2]],
[12,9,'o',[-3,95,1,95,2,75,2,65,-3,62]],
[12,9,'o',[-3,55,2,52,3,25,2,8,-3,8]],
[12,9,'y',[-3,35,1,33,2,20,1,12,-3,12]],
[12,9,'b',[80,87,92,98,105,102,105,-2,98,0,87,4,78,8,79,33,85,54,83,71]],
[12,9,'r',[92,95,105,100,105,2,93,7,87,16,90,38,92,62,91,84]],
[12,9,'o',[96,91,99,84,98,75,95,79,95,87]],
[12,9,'o',[96,40,99,25,98,8,93,16,92,27]],
[12,9,'y',[97,25,98,19,97,14,96,19]],
[12,10,'b',[13,97,66,97,70,84,56,65,56,46,76,22,73,5,36,0,6,5,3,24,11,54,9,79]],
[12,10,'r',[19,97,51,95,53,81,43,60,60,25,53,8,29,4,13,14,16,41,19,65,18,84]],
[12,10,'o',[34,91,45,84,41,75,31,59,26,74,25,84]],
[12,10,'o',[31,52,43,35,52,19,43,10,26,8,18,16,21,35]],
[12,10,'y',[34,34,43,25,42,16,34,12,26,19,28,30]],
[12,11,'b',[29,93,57,102,89,97,86,89,62,71,46,57,52,44,79,19,86,8,72,0,42,5,15,14,3,30,9,63,15,79]],
[12,11,'r',[32,90,66,95,76,94,72,84,56,71,41,57,42,49,72,22,76,8,49,7,22,16,10,33,15,63,20,79]],
[12,11,'o',[35,82,62,90,64,86,49,76,34,69,30,76]],
[12,11,'o',[29,46,46,35,66,18,62,10,39,11,20,22,17,35]],
[12,11,'y',[32,31,46,26,56,15,42,12,30,19,27,26]],
[13,0,'b',[41,98,74,92,88,69,81,44,85,20,62,2,38,1,15,16,15,44,9,66,18,87]],
[13,0,'r',[45,90,69,82,78,66,71,41,74,20,52,7,30,13,25,37,18,66,27,83]],
[13,0,'o',[48,82,65,75,72,60,58,46,64,23,48,13,38,20,38,45,27,63,32,76]],
[13,0,'y',[48,76,60,68,60,59,48,50,39,55,36,66,39,73]],
[13,1,'b',[68,98,89,83,82,62,68,41,84,9,58,0,29,6,8,30,5,52,19,83,43,94]],
[13,1,'r',[61,89,77,80,72,62,59,41,73,12,51,7,26,16,15,48,22,73,40,85]],
[13,1,'o',[58,85,65,73,54,52,47,37,61,18,51,15,31,27,24,55,33,73,47,82]],
[13,1,'y',[54,74,59,67,54,56,43,50,35,56,36,67,45,73]],
[13,2,'b',[53,98,81,90,93,69,86,41,86,16,66,4,42,1,21,13,17,44,12,69,21,90]],
[13,2,'r',[52,90,77,82,84,66,76,41,79,20,56,9,31,13,28,37,24,66,31,83]],
[13,2,'o',[54,82,70,76,76,62,64,45,68,20,54,13,42,18,42,45,33,63,38,75]],
[13,2,'y',[54,76,66,68,66,57,54,52,44,55,42,66,47,73]],
[13,3,'b',[41,98,73,87,85,66,76,41,80,16,55,2,27,1,9,13,11,44,6,73,16,90]],
[13,3,'r',[41,90,66,80,76,62,66,41,69,20,45,9,24,13,20,37,15,62,22,82]],
[13,3,'o',[43,82,59,76,66,64,55,45,57,20,43,13,29,20,31,45,20,62,27,76]],
[13,3,'y',[43,75,55,68,55,57,43,52,31,57,29,66,34,73]],
[13,4,'b',[-5,80,30,88,56,90,83,88,105,82,105,15,80,13,56,7,30,7,4,13,6,30,-5,45]],
[13,4,'r',[3,70,23,84,56,86,86,84,99,67,93,45,87,18,56,13,23,18,19,40,4,54]],
[13,4,'o',[16,70,36,78,66,81,93,73,90,59,63,48,49,43,26,54]],
[13,4,'o',[40,29,63,29,66,21,43,18]],
[13,4,'y',[36,67,53,74,70,71,77,64,66,56,53,54,38,60]],
[13,4,'k',[10,40,30,50,60,46,90,40,92,20,70,12,30,12,12,22]],
[13,4,'k',[25,40,50,42,75,40,78,22,50,16,25,20]],
[13,5,'b',[-5,80,25,88,55,90,85,88,105,78,105,15,85,12,55,8,25,8,5,12,-5,25]],
[13,5,'r',[2,67,22,82,49,85,79,81,96,67,91,45,82,18,49,13,19,16,15,40,5,54]],
[13,5,'o',[7,67,29,78,59,81,89,70,79,54,52,45,29,49,12,58]],
[13,5,'o',[42,26,56,26,56,20,42,18]],
[13,5,'y',[24,66,42,73,66,71,75,65,59,56,42,56,29,60]],
[13,5,'k',[8,38,30,50,60,46,88,40,90,20,70,12,30,12,10,22]],
[13,5,'k',[25,40,50,42,75,40,78,22,50,16,25,20]],
[13,6,'b',[42,97,72,92,79,73,72,51,75,18,69,7,49,2,19,7,9,21,9,48,2,67,12,86]],
[13,6,'r',[42,88,65,84,70,70,62,45,67,18,55,7,25,11,19,24,19,48,12,70,19,81]],
[13,6,'o',[42,81,59,78,64,67,55,48,54,18,42,15,32,24,30,43,19,62,24,76]],
[13,6,'y',[40,75,54,70,55,62,45,52,35,54,27,60,30,70]],
[13,7,'b',[62,97,85,84,90,70,78,48,85,16,75,3,42,2,15,10,10,26,8,67,18,86,42,96]],
[13,7,'r',[58,88,78,78,78,62,67,45,75,16,62,9,28,10,18,26,15,59,25,81,42,86]],
[13,7,'o',[55,81,68,73,65,54,48,41,60,18,45,15,31,29,30,45,23,62,35,76]],
[13,7,'y',[46,74,60,70,60,59,48,48,38,54,31,62,36,70]],
[13,8,'b',[57,99,80,101,95,84,99,62,97,29,80,5,64,0,44,16,27,21,20,46,15,74,40,84]],
[13,8,'r',[60,95,77,96,92,78,96,59,95,32,80,8,67,3,52,16,44,59,50,81]],
[13,8,'o',[69,88,81,84,87,62,84,21,72,10,64,21,69,43,59,73]],
[13,8,'y',[74,80,82,71,87,62,79,51,71,58,66,67]],
[13,9,'b',[-3,102,3,102,6,85,7,50,6,25,3,0,-3,-2]],
[13,9,'r',[-3,98,2,97,5,80,5,40,4,12,1,2,-3,2]],
[13,9,'o',[-3,90,1,85,3,70,3,50,2,30,1,18,-3,15]],
[13,9,'y',[-3,80,1,75,2,60,1,48,-3,45]],
[13,9,'b',[81,80,90,82,98,99,105,102,105,-2,93,2,83,18,79,40,79,67]],
[13,9,'r',[98,95,105,98,105,2,95,7,92,21,87,59,92,81]],
[13,9,'o',[98,86,105,85,99,48,93,40,93,65]],
[13,9,'o',[97,34,99,24,98,10,95,13,94,26]],
[13,10,'b',[43,99,55,92,60,84,73,74,70,62,51,40,66,21,56,7,36,0,13,10,3,48,1,67,16,84,26,97]],
[13,10,'r',[36,93,55,81,56,70,46,40,55,13,36,5,19,13,12,46,21,81]],
[13,10,'o',[35,85,44,75,46,62,36,43,43,18,35,13,24,18,21,56,25,78]],
[13,10,'y',[35,77,41,67,38,54,31,50,25,59,28,70]],
[13,11,'b',[46,97,76,86,79,65,64,46,72,24,91,12,72,3,52,5,19,16,1,40,5,70,25,92]],
[13,11,'r',[46,89,64,84,71,70,61,51,54,37,72,13,62,9,39,13,15,29,10,56,17,78,32,86]],
[13,11,'o',[42,82,57,78,61,67,49,51,44,40,57,16,46,18,25,29,17,48,22,73]],
[13,11,'y',[39,74,49,69,46,59,36,47,27,54,27,65,32,71]],
[13,12,'b',[-3,105,21,98,33,84,47,67,69,52,90,32,105,20,105,-5,86,0,62,23,38,41,18,52,4,65,-3,80]],
[13,12,'r',[6,95,16,92,28,78,40,60,55,49,79,35,96,16,98,5,91,3,64,27,43,38,21,54,6,71,4,89]],
[13,12,'o',[14,89,25,80,35,60,40,55,39,50,23,56,11,71,9,82]],
[13,12,'o',[69,34,82,32,93,19,95,11,88,7,74,19,66,30]],
[13,12,'y',[16,82,22,76,29,61,26,59,18,64,12,73]],
[13,12,'y',[80,24,88,16,87,14,81,16,78,22]]
];

// loose samples around the noisiest panels, read by eye
const specks = [
[5,4,[4,30,7,62,12,20,14,66,18,8,21,84,25,40,27,14,31,95,33,60,35,28,37,76,39,45,41,88,43,18,45,66,47,33,49,8,52,74,54,44,55,95,57,25,59,58,61,12,63,82,65,38,67,68,69,22,71,90,73,50,75,14,77,62,79,33,81,78,83,8,85,45,87,60,89,20,91,72,93,35,95,55,97,42,10,44,16,55,24,74,29,48,34,90,38,10,44,56,48,38,53,60,56,50,60,34,62,70,68,46,72,30,76,42,80,56,84,30,88,82]],
[12,4,[20,62,26,57,30,66,34,58,38,63,42,56,46,61,50,57,54,65,58,59,62,63,66,56,70,60,74,64,8,60,88,58,44,87,50,83,60,85,38,82,68,84]],
[12,5,[8,62,12,55,18,66,24,58,30,62,36,55,42,60,48,56,54,63,60,58,66,61,72,56,78,60,4,68,42,88,50,84,58,86,36,84]],
[13,4,[10,30,16,20,24,35,30,26,34,44,40,36,44,24,50,34,54,42,58,26,64,36,70,24,76,38,82,30,88,44,94,22,20,50,46,48,72,46]],
[13,5,[6,28,14,40,20,22,26,36,32,44,38,26,44,38,50,46,56,24,62,38,68,30,74,44,80,24,86,38,92,30,96,18,16,52,60,48]]];

const fillColors = { b: '#0000ff', r: '#ff0000', o: '#ffa500', y: '#ffff00' };
const noisy = [4, 5];

// panel placement in the page
const marginL = 72, marginB = 72, marginT = 12, marginR = 34, panelW = 153, panelH = 152;
const panelLeft = c => Math.round(92.5 + 194.65 * c);
const panelTop = r => Math.round(41 + 193.46 * r);
const num = s => Number(s.replace('−', '-'));
const toX = (c, u) => lo[c] + u / 100 * (hi[c] - lo[c]);

Chart.defaults.font.family = '"DejaVu Sans", sans-serif';

// fills the closed outlines through the line element's own path
const shapeFill = {
  id: 'shapeFill',
  beforeDatasetDraw(chart, args) {
    const color = chart.data.datasets[args.index].shapeColor;
    if (!color) return;
    const line = args.meta.dataset, ctx = chart.ctx, a = chart.chartArea;
    line.updateControlPoints(a);
    ctx.save();
    ctx.beginPath();
    ctx.rect(a.left, a.top, a.right - a.left, a.bottom - a.top);
    ctx.clip();
    ctx.beginPath();
    line.path(ctx);
    ctx.closePath();
    ctx.fillStyle = color;
    ctx.fill();
    ctx.restore();
  }
};

// rotated tick labels centred on the ticks, and the box round the panel
const panelDecor = {
  id: 'panelDecor',
  afterDraw(chart, args, opts) {
    const ctx = chart.ctx, a = chart.chartArea;
    ctx.save();
    ctx.strokeStyle = '#000';
    ctx.lineWidth = 1.4;
    ctx.strokeRect(a.left, a.top, a.right - a.left, a.bottom - a.top);
    ctx.font = '14.2px "DejaVu Sans"';
    ctx.fillStyle = '#000';
    ctx.textAlign = 'center';
    ctx.textBaseline = 'middle';
    const s = Math.SQRT1_2, h = 11;
    const put = (t, x, y) => { ctx.save(); ctx.translate(x, y); ctx.rotate(-Math.PI / 4); ctx.fillText(t, 0, 0); ctx.restore(); };
    if (opts.xLabels) opts.xLabels.forEach(t => {
      const half = (ctx.measureText(t).width + h) * s / 2;
      put(t, chart.scales.x.getPixelForValue(num(t)), a.bottom + 9 + half);
    });
    if (opts.yLabels) opts.yLabels.forEach(t => {
      const half = (ctx.measureText(t).width + h) * s / 2;
      put(t, a.left - 9 - half, chart.scales.y.getPixelForValue(num(t)));
    });
    ctx.restore();
  }
};

function axisOptions(limLo, limHi, ticks, side) {
  const afterFit = side === 'x' ? s => { s.height = marginB; } : s => { s.width = marginL; };
  return {
    type: 'linear', min: limLo, max: limHi,
    grid: { drawOnChartArea: false, drawTicks: true, tickLength: 5, tickWidth: 1.3, tickColor: '#000' },
    border: { display: false },
    ticks: { display: false },
    afterBuildTicks: s => { s.ticks = ticks.map(v => ({ value: v })); },
    afterFit
  };
}

function makePanel(r, c, datasets) {
  const canvas = document.createElement('canvas');
  canvas.width = marginL + panelW + marginR;
  canvas.height = marginT + panelH + marginB;
  canvas.style.left = (panelLeft(c) - marginL) + 'px';
  canvas.style.top = (panelTop(r) - marginT) + 'px';
  document.body.appendChild(canvas);
  const isDiag = r === c;
  new Chart(canvas, {
    type: 'scatter',
    data: { datasets },
    plugins: [shapeFill, panelDecor],
    options: {
      responsive: false, animation: false, events: [],
      layout: { padding: { top: marginT, right: marginR, left: 0, bottom: 0 } },
      scales: {
        x: axisOptions(lo[c], hi[c], tickLabels[c].map(num), 'x'),
        y: isDiag ? axisOptions(0, 100, [], 'y') : axisOptions(lo[r], hi[r], tickLabels[r].map(num), 'y')
      },
      plugins: {
        legend: { display: false }, tooltip: { enabled: false }, title: { display: false },
        panelDecor: {
          xLabels: r === 13 ? tickLabels[c] : null,
          yLabels: c === 0 && r > 0 ? tickLabels[r] : null
        }
      }
    }
  });
}

function pairs(flat, fx, fy) {
  const pts = [];
  for (let i = 0; i < flat.length; i += 2) pts.push({ x: fx(flat[i]), y: fy(flat[i + 1]) });
  return pts;
}

function beadLine(pts, width, gap) {
  return {
    data: pts, showLine: true, tension: 0.4, pointRadius: 0, borderColor: '#000',
    borderWidth: width, borderDash: [0.5, gap], borderCapStyle: 'round', clip: 0
  };
}

function contourDatasets(r, c) {
  const sets = [];
  const heavy = noisy.includes(r) || noisy.includes(c);
  const smooth = r === 9 || c === 9; // the ptime panels have clean edges
  const hit = specks.find(s => s[0] === r && s[1] === c);
  if (hit) sets.push({ data: pairs(hit[2], u => toX(c, u), v => toX(r, v)), pointRadius: 2, pointBackgroundColor: '#000', pointBorderWidth: 0, clip: 0 });
  ['k', 'y', 'o', 'r', 'b'].forEach(level => {
    outlines.filter(o => o[0] === r && o[1] === c && o[2] === level).forEach(o => {
      const pts = pairs(o[3], u => toX(c, u), v => toX(r, v));
      pts.push(pts[0]);
      if (level === 'k') { sets.push(beadLine(pts, 6, 5)); return; }
      if (!smooth) {
        if (heavy) sets.push(beadLine(pts, level === 'y' ? 7 : 5.5, level === 'y' ? 3.5 : 4.5));
        else sets.push(beadLine(pts, 4.2, 5));
      }
      sets.push({
        data: pts, showLine: true, shapeColor: fillColors[level], tension: 0.4, pointRadius: 0,
        borderColor: '#000', borderWidth: smooth ? 2 : (heavy ? 2.8 : 2.2), clip: 0
      });
    });
  });
  return sets;
}

function histDatasets(c) {
  const med = num(medians[c]);
  const marks = [med + Number(plusErr[c]), med, med - Number(minusErr[c])].map(q => ({
    data: [{ x: q, y: 0 }, { x: q, y: 100 }], showLine: true, pointRadius: 0,
    borderColor: '#000', borderWidth: 2.2, borderDash: [7, 4], clip: 0
  }));
  const curve = {
    data: pairs(histograms[c], u => toX(c, u), v => v), showLine: true, pointRadius: 0,
    borderColor: '#000', borderWidth: 1.3, tension: c === 9 ? 0 : 0.3
  };
  return [...marks, curve];
}

function addText(html, left, top, rotate) {
  const d = document.createElement('div');
  d.className = 'txt';
  d.innerHTML = html;
  d.style.left = left + 'px';
  d.style.top = top + 'px';
  d.style.transform = rotate ? 'translate(-50%,-50%) rotate(-90deg)' : 'translate(-50%,-50%)';
  document.body.appendChild(d);
}

for (let r = 0; r < 14; r++) {
  for (let c = 0; c <= r; c++) {
    makePanel(r, c, r === c ? histDatasets(c) : contourDatasets(r, c));
  }
  const mid = panelLeft(r) + panelW / 2;
  addText(`${names[r]} = ${medians[r]}<span class="stack"><span>+${plusErr[r]}</span><span>−${minusErr[r]}</span></span>`, mid, panelTop(r) - 16);
  addText(names[r], mid, 2761);
  if (r > 0) addText(names[r], 38, panelTop(r) + panelH / 2, true);
}
</script>
</body>
</html>
